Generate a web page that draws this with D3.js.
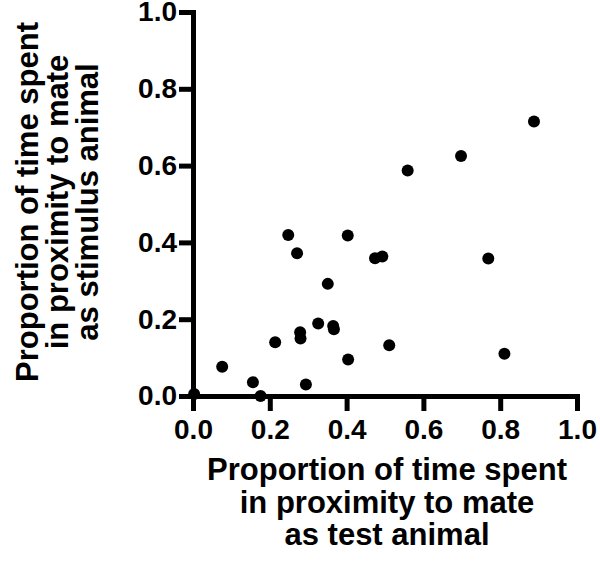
<!DOCTYPE html>
<html>
<head>
<meta charset="utf-8">
<script src="https://cdn.jsdelivr.net/npm/d3@7"></script>
<style>
  html, body { margin: 0; padding: 0; background: #fff; }
  svg { display: block; }
</style>
</head>
<body>
<svg id="chart" width="600" height="562"></svg>
<script>
// Data
const xValues = [0.003, 0.076, 0.156, 0.176, 0.214, 0.248, 0.271, 0.279, 0.280, 0.294, 0.326, 0.351,
                 0.365, 0.367, 0.403, 0.404, 0.474, 0.493, 0.511, 0.559, 0.698, 0.769, 0.811, 0.888];
const yValues = [0.005, 0.076, 0.036, 0.000, 0.140, 0.419, 0.372, 0.166, 0.150, 0.030, 0.189, 0.292,
                 0.182, 0.174, 0.418, 0.095, 0.359, 0.363, 0.132, 0.587, 0.625, 0.358, 0.110, 0.715];
const tickValues = [0, 0.2, 0.4, 0.6, 0.8, 1.0];
const xTitle = ["Proportion of time spent", "in proximity to mate", "as test animal"];
const yTitle = ["Proportion of time spent", "in proximity to mate", "as stimulus animal"];

const points = xValues.map((x, i) => ({x: x, y: yValues[i]}));

const svg = d3.select("#chart");
const FONT = "'Liberation Sans', Arial, Helvetica, sans-serif";

const x = d3.scaleLinear().domain([0, 1]).range([193, 577]);
const y = d3.scaleLinear().domain([0, 1]).range([396, 12]);

// X axis
const gx = svg.append("g").attr("transform", `translate(0,${y(0)})`)
  .call(d3.axisBottom(x).tickValues(tickValues).tickFormat(d3.format(".1f"))
        .tickSize(15).tickSizeOuter(0).tickPadding(8));
// Y axis
const gy = svg.append("g").attr("transform", `translate(${x(0)},0)`)
  .call(d3.axisLeft(y).tickValues(tickValues).tickFormat(d3.format(".1f"))
        .tickSize(14).tickSizeOuter(0).tickPadding(2));

[gx, gy].forEach(g => {
  g.attr("font-size", null);
  g.select(".domain").attr("stroke", "#000").attr("stroke-width", 5).attr("stroke-linecap", "square");
  g.selectAll(".tick line").attr("stroke", "#000").attr("stroke-width", 5);
  g.selectAll(".tick text").attr("fill", "#000")
    .style("font-family", FONT).style("font-weight", "bold").style("font-size", "28px");
});

// Points
svg.append("g").selectAll("circle").data(points).join("circle")
  .attr("cx", d => x(d.x)).attr("cy", d => y(d.y)).attr("r", 6).attr("fill", "#000");

// X title
svg.append("text")
  .attr("text-anchor", "middle")
  .style("font-family", FONT).style("font-weight", "bold").style("font-size", "31px")
  .selectAll("tspan").data(xTitle).join("tspan")
  .attr("x", 387).attr("y", (d, i) => 480 + i * 32.5).text(d => d);

// Y title
svg.append("text")
  .attr("text-anchor", "middle")
  .attr("transform", "rotate(-90)")
  .style("font-family", FONT).style("font-weight", "bold").style("font-size", "31px")
  .selectAll("tspan").data(yTitle).join("tspan")
  .attr("x", -202).attr("y", (d, i) => 38 + i * 30).text(d => d);
</script>
</body>
</html>
